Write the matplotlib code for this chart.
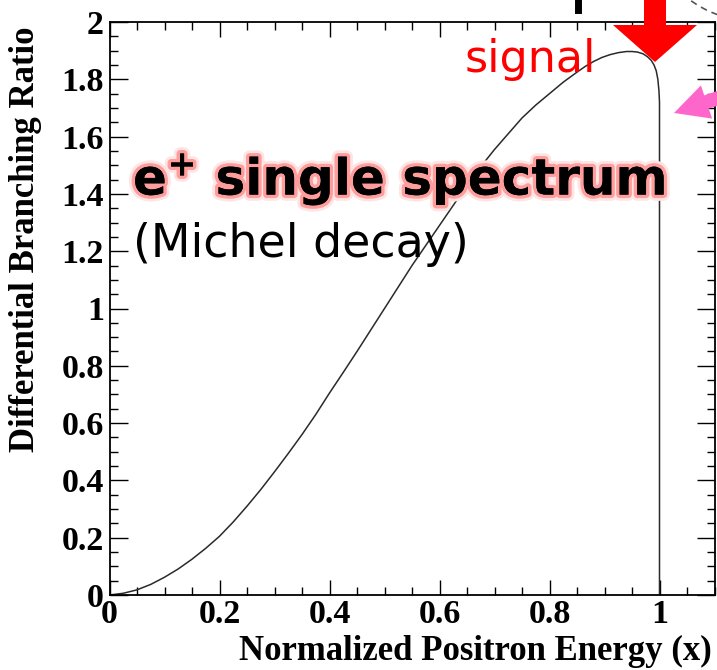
import numpy as np
import matplotlib
matplotlib.use('Agg')
import matplotlib.pyplot as plt
from matplotlib.patches import Polygon, Arc
from matplotlib.lines import Line2D
from matplotlib.ticker import MultipleLocator
import matplotlib.patheffects as pe

# 図から読み取ったスペクトル (x: 規格化陽電子エネルギー)
energy = [0.0, 0.025, 0.05, 0.075, 0.1, 0.125, 0.15, 0.175, 0.2, 0.225, 0.25,
          0.275, 0.3, 0.325, 0.35, 0.375, 0.4, 0.425, 0.45, 0.475, 0.5, 0.525,
          0.55, 0.575, 0.6, 0.625, 0.65, 0.675, 0.7, 0.725, 0.75, 0.775, 0.8,
          0.825, 0.85, 0.865, 0.88, 0.895, 0.91, 0.925, 0.94, 0.95, 0.96,
          0.97, 0.978, 0.985, 0.99, 0.994, 0.997, 0.999, 1.0, 1.0]
ratio = [0.0, 0.006, 0.018, 0.037, 0.062, 0.091, 0.125, 0.163, 0.205, 0.255,
         0.31, 0.368, 0.43, 0.494, 0.56, 0.63, 0.705, 0.777, 0.85, 0.925, 1.0,
         1.075, 1.15, 1.22, 1.29, 1.36, 1.43, 1.495, 1.555, 1.61, 1.665, 1.71,
         1.75, 1.79, 1.825, 1.845, 1.862, 1.876, 1.886, 1.893, 1.897, 1.897,
         1.895, 1.889, 1.879, 1.866, 1.85, 1.83, 1.80, 1.76, 1.72, 0.0]

x_ticks = [0, 0.2, 0.4, 0.6, 0.8, 1.0]
x_tick_labels = ['0', '0.2', '0.4', '0.6', '0.8', '1']
y_ticks = [0, 0.2, 0.4, 0.6, 0.8, 1.0, 1.2, 1.4, 1.6, 1.8, 2.0]
y_tick_labels = ['0', '0.2', '0.4', '0.6', '0.8', '1', '1.2', '1.4', '1.6', '1.8', '2']

W, H = 717, 670
SERIF = ['Liberation Serif', 'DejaVu Serif']
SANS = ['DejaVu Sans']


# 画像のピクセル座標 (上が0) を図の座標に変換
def px(x, y):
    return (x / W, 1 - y / H)


fig = plt.figure(figsize=(W / 100, H / 100), dpi=100)
ax = fig.add_axes([109.5 / W, 75 / H, 605 / W, 573 / H])

ax.plot(energy, ratio, color='#2a2a2a', lw=1.1)

ax.set_xlim(0, 1.1)
ax.set_ylim(0, 2)
ax.set_xticks(x_ticks)
ax.set_xticklabels(x_tick_labels)
ax.set_yticks(y_ticks)
ax.set_yticklabels(y_tick_labels)
ax.xaxis.set_minor_locator(MultipleLocator(0.05))
ax.yaxis.set_minor_locator(MultipleLocator(0.05))
ax.tick_params(which='both', direction='in', top=True, right=True, width=1)
ax.tick_params(axis='x', which='major', length=10.8, pad=3)
ax.tick_params(axis='x', which='minor', length=5.8)
ax.tick_params(axis='y', which='major', length=13, pad=4)
ax.tick_params(axis='y', which='minor', length=5.8)
for lab in ax.get_xticklabels() + ax.get_yticklabels():
    lab.set_fontfamily(SERIF)
    lab.set_fontweight('bold')
    lab.set_fontsize(24.5)
for sp in ax.spines.values():
    sp.set_linewidth(1.3)

# 軸タイトル
fig.text(*px(712, 668), 'Normalized Positron Energy (x)', ha='right', va='bottom',
         fontsize=25, fontweight='bold', family=SERIF)
fig.text(*px(26, 26), 'Differential Branching Ratio', ha='center', va='top',
         rotation=90, fontsize=25, fontweight='bold', family=SERIF)

# 注釈テキスト
fig.text(*px(133, 195), r'e$^{\mathbf{+}}$ single spectrum', ha='left', va='baseline',
         fontsize=36, fontweight='bold', family=SANS, color='black',
         path_effects=[pe.withStroke(linewidth=9, foreground='#ffe4e4'),
                       pe.withStroke(linewidth=5, foreground='#ff9c9c'),
                       pe.Normal()])
fig.text(*px(133, 257), '(Michel decay)', ha='left', va='baseline',
         fontsize=33, family=SANS, color='black')
fig.text(*px(465, 72), 'signal', ha='left', va='baseline',
         fontsize=32, family=SANS, color='#ff0000')

# 上端で切れた文字の名残 (短い縦棒)
fig.lines.append(Line2D([578 / W, 578 / W], [1.0, 1 - 10 / H],
                        transform=fig.transFigure, color='black', lw=5))

# 赤い矢印 (signal)
red_arrow = [(644, -10), (666, -10), (666, 25), (697, 25), (655, 62),
             (613, 25), (644, 25)]
fig.patches.append(Polygon([px(*p) for p in red_arrow], closed=True,
                           transform=fig.transFigure, color='#ff0000', lw=0))

# ピンクの矢印
tip = np.array([674.0, 113.0])
base = np.array([706.5, 102.0])
d = (base - tip) / np.linalg.norm(base - tip)
n = np.array([d[1], -d[0]])
hw, sw = 17.5, 7.0
tail = base + 80 * d
pink = [tip, base + hw * n, base + sw * n, tail + sw * n, tail - sw * n,
        base - sw * n, base - hw * n]
fig.patches.append(Polygon([px(*p) for p in pink], closed=True,
                           transform=fig.transFigure, color='#ff66cc', lw=0))

# 右上の破線の円
cx, cy = px(750, -80)
fig.patches.append(Arc((cx, cy), 200 / W, 200 / H, transform=fig.transFigure,
                       color='#555555', lw=1.2, ls=(0, (4, 3))))

fig.savefig('out.png', dpi=100)
